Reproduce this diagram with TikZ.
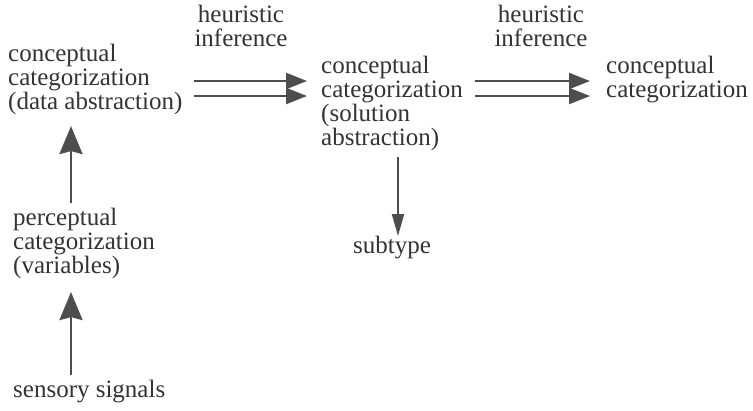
\documentclass[tikz,border=0pt]{standalone}
\usepackage{fontspec}
\setmainfont{Liberation Serif}
\usetikzlibrary{arrows.meta}
\definecolor{ink}{HTML}{333333}
\definecolor{shaft}{HTML}{4D4D4D}

\begin{document}
\begin{tikzpicture}[x=1pt,y=-1pt,
    lbl/.style={anchor=north west, inner sep=0pt, align=left, text=ink,
        font=\fontsize{25}{24}\selectfont},
    dbl/.style={draw=shaft, line width=2.3pt,
        -{Triangle[length=21pt,width=16pt]}},
    up/.style={draw=shaft, line width=2.7pt,
        -{Stealth[length=28pt,width=23pt,inset=3pt]}}]
    \useasboundingbox (0,0) rectangle (753,410);

    % Categories
    \node[lbl] (data) at (8,44) {conceptual\\categorization\\(data abstraction)};
    \node[lbl] (solution) at (321,56) {conceptual\\categorization\\(solution\\abstraction)};
    \node[lbl] (concept) at (606,56) {conceptual\\categorization};
    \node[lbl] (percept) at (13,208) {perceptual\\categorization\\(variables)};
    \node[lbl] (sensory) at (13,380) {sensory signals};
    \node[lbl] (subtype) at (353,236) {subtype};

    % Inference labels
    \node[lbl, anchor=north, align=center] (inf1) at (241,5) {heuristic\\inference};
    \node[lbl, anchor=north, align=center] (inf2) at (541,5) {heuristic\\inference};

    % Helper rows and columns
    \coordinate (hi) at (0,81);
    \coordinate (lo) at (0,96);
    \coordinate (col) at (71,0);
    \coordinate (sub) at (398,0);

    % Double arrows
    \draw[dbl, shorten <=11pt, shorten >=14pt] (data.east |- hi) -- (solution.west |- hi);
    \draw[dbl, shorten <=11pt, shorten >=14pt] (data.east |- lo) -- (solution.west |- lo);
    \draw[dbl, shorten <=12pt, shorten >=16pt] (solution.east |- hi) -- (concept.west |- hi);
    \draw[dbl, shorten <=12pt, shorten >=16pt] (solution.east |- lo) -- (concept.west |- lo);

    % Vertical arrows
    \draw[up, shorten <=5pt, shorten >=11pt] (percept.north -| col) -- (data.south -| col);
    \draw[up, shorten <=5pt, shorten >=13pt] (sensory.north -| col) -- (percept.south -| col);
    \draw[dbl, line width=2pt, shorten <=6pt,
        -{Triangle[length=22pt,width=12pt]}] (solution.south -| sub) -- (subtype.north -| sub);
\end{tikzpicture}
\end{document}
